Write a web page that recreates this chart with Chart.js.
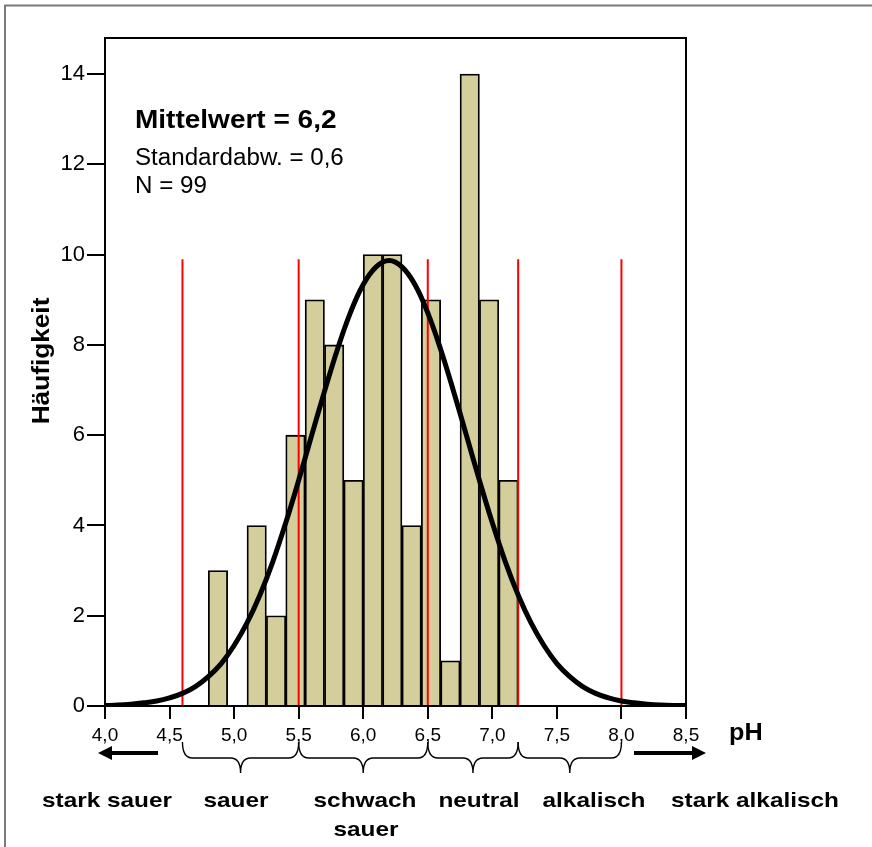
<!DOCTYPE html>
<html>
<head>
<meta charset="UTF-8">
<title>pH Histogramm</title>
<script src="https://cdn.jsdelivr.net/npm/chart.js@4.4.0/dist/chart.umd.min.js"></script>
<style>
  body { margin: 0; padding: 0; background: #fff; }
  #wrap { width: 872px; height: 847px; }
</style>
</head>
<body>
<div id="wrap"><canvas id="c" width="872" height="847"></canvas></div>
<script>
// Histogram bins (pH class centres, width 0.15) and counts
var binCenters = [4.875, 5.025, 5.175, 5.325, 5.475, 5.625, 5.775, 5.925, 6.075, 6.225, 6.375, 6.525, 6.675, 6.825, 6.975, 7.125];
var counts     = [3, 0, 4, 2, 6, 9, 8, 5, 10, 10, 4, 9, 1, 14, 9, 5];

// Normal curve
var curvePH   = [4.0, 4.1, 4.2, 4.3, 4.4, 4.5, 4.6, 4.7, 4.8, 4.9, 5.0, 5.1, 5.2, 5.3, 5.4, 5.5, 5.6, 5.7, 5.8, 5.9,
                 6.0, 6.1, 6.2, 6.3, 6.4, 6.5, 6.6, 6.7, 6.8, 6.9, 7.0, 7.1, 7.2, 7.3, 7.4, 7.5, 7.6, 7.7, 7.8, 7.9,
                 8.0, 8.1, 8.2, 8.3, 8.4, 8.5];
var curveFreq = [0.01, 0.02, 0.04, 0.07, 0.11, 0.18, 0.28, 0.43, 0.65, 0.94, 1.34, 1.84, 2.46, 3.20, 4.06, 5.00, 5.99, 6.97, 7.90, 8.71,
                 9.34, 9.73, 9.87, 9.73, 9.34, 8.71, 7.90, 6.97, 5.99, 5.00, 4.06, 3.20, 2.46, 1.84, 1.34, 0.94, 0.65, 0.43, 0.28, 0.18,
                 0.11, 0.07, 0.04, 0.02, 0.01, 0.01];

// Class boundaries (red lines)
var classBounds = [4.6, 5.5, 6.5, 7.2, 8.0];
var boundTop    = 9.9;

var statLines   = ['Mittelwert = 6,2', 'Standardabw. = 0,6', 'N = 99'];
var regionNames = ['stark sauer', 'sauer', 'schwach', 'sauer', 'neutral', 'alkalisch', 'stark alkalisch'];

var FONT = '"Liberation Sans", Arial, sans-serif';

function txt(ctx, s, x, y, font, sx, align) {
    ctx.save();
    ctx.font = font;
    ctx.textAlign = align || 'left';
    ctx.textBaseline = 'alphabetic';
    ctx.fillStyle = '#000';
    ctx.translate(x, y);
    ctx.scale(sx, 1);
    ctx.fillText(s, 0, 0);
    ctx.restore();
}

function brace(ctx, x1, x2) {
    var mid = (x1 + x2) / 2, yt = 742, yh = 758, yb = 773;
    ctx.beginPath();
    ctx.moveTo(x1, yt);
    ctx.quadraticCurveTo(x1, yh, x1 + 10, yh);
    ctx.lineTo(mid - 10, yh);
    ctx.quadraticCurveTo(mid, yh, mid, yb);
    ctx.quadraticCurveTo(mid, yh, mid + 10, yh);
    ctx.lineTo(x2 - 10, yh);
    ctx.quadraticCurveTo(x2, yh, x2, yt);
    ctx.stroke();
}

function arrow(ctx, xFrom, xTo, y) {
    var dir = xTo > xFrom ? 1 : -1;
    ctx.beginPath();
    ctx.moveTo(xFrom, y);
    ctx.lineTo(xTo - dir * 12, y);
    ctx.lineWidth = 4;
    ctx.stroke();
    ctx.beginPath();
    ctx.moveTo(xTo, y);
    ctx.lineTo(xTo - dir * 14, y - 7);
    ctx.lineTo(xTo - dir * 14, y + 7);
    ctx.closePath();
    ctx.fill();
}

var extras = {
    id: 'extras',
    afterDraw: function (chart) {
        var ctx = chart.ctx, a = chart.chartArea, xs = chart.scales.x;
        ctx.save();

        // outer gray border (top + left)
        ctx.strokeStyle = '#7a7a7a';
        ctx.lineWidth = 2;
        ctx.beginPath();
        ctx.moveTo(5, 847); ctx.lineTo(5, 5.5); ctx.lineTo(872, 5.5);
        ctx.stroke();

        // plot frame
        ctx.strokeStyle = '#000';
        ctx.lineWidth = 2;
        ctx.strokeRect(a.left, a.top, a.right - a.left, a.bottom - a.top);

        // stats text
        txt(ctx, statLines[0], 135, 128, 'bold 25px ' + FONT, 1.12, 'left');
        txt(ctx, statLines[1], 135, 165, '23px ' + FONT, 1.05, 'left');
        txt(ctx, statLines[2], 135, 193, '23px ' + FONT, 1.05, 'left');

        // y title
        ctx.save();
        ctx.translate(48.5, 361);
        ctx.rotate(-Math.PI / 2);
        ctx.scale(1.14, 1);
        ctx.font = 'bold 23px ' + FONT;
        ctx.textAlign = 'center';
        ctx.fillStyle = '#000';
        ctx.fillText('Häufigkeit', 0, 0);
        ctx.restore();

        // x title
        txt(ctx, 'pH', 729, 740, 'bold 24px ' + FONT, 1.05, 'left');

        // braces between the class boundaries
        ctx.strokeStyle = '#000';
        ctx.lineWidth = 1.4;
        for (var i = 0; i < classBounds.length - 1; i++) {
            brace(ctx, xs.getPixelForValue(classBounds[i]), xs.getPixelForValue(classBounds[i + 1]));
        }

        // arrows
        ctx.fillStyle = '#000';
        arrow(ctx, 158, 98, 753);
        arrow(ctx, 634, 706, 753);

        // region names
        var bf = 'bold 21px ' + FONT;
        txt(ctx, regionNames[0], 107, 807, bf, 1.16, 'center');
        txt(ctx, regionNames[1], 236, 807, bf, 1.16, 'center');
        txt(ctx, regionNames[2], 365, 807, bf, 1.16, 'center');
        txt(ctx, regionNames[3], 366, 836, bf, 1.16, 'center');
        txt(ctx, regionNames[4], 479, 807, bf, 1.16, 'center');
        txt(ctx, regionNames[5], 594, 807, bf, 1.16, 'center');
        txt(ctx, regionNames[6], 755, 807, bf, 1.16, 'center');

        ctx.restore();
    }
};

var datasets = [];

datasets.push({
    type: 'line',
    data: curvePH.map(function (x, i) { return { x: x, y: curveFreq[i] }; }),
    borderColor: '#000',
    borderWidth: 5,
    pointRadius: 0,
    tension: 0.4,
    fill: false,
    order: 0
});

classBounds.forEach(function (b) {
    datasets.push({
        type: 'line',
        data: [{ x: b, y: 0 }, { x: b, y: boundTop }],
        borderColor: '#ff0000',
        borderWidth: 2,
        pointRadius: 0,
        fill: false,
        order: 1
    });
});

datasets.push({
    type: 'bar',
    data: binCenters.map(function (x, i) { return { x: x, y: counts[i] }; }),
    backgroundColor: 'rgb(211,206,155)',
    borderColor: '#000',
    borderWidth: 1.8,
    barPercentage: 1,
    categoryPercentage: 1,
    order: 2
});

new Chart(document.getElementById('c'), {
    type: 'bar',
    data: { datasets: datasets },
    options: {
        responsive: false,
        animation: false,
        layout: { padding: { left: 0, top: 38, right: 186, bottom: 0 } },
        plugins: { legend: { display: false }, tooltip: { enabled: false } },
        scales: {
            x: {
                type: 'linear',
                offset: false,
                min: 4, max: 8.5,
                grid: { drawOnChartArea: false, drawTicks: true, tickLength: 13, color: '#000', lineWidth: 2, offset: false },
                border: { display: false },
                ticks: {
                    stepSize: 0.5,
                    padding: 5,
                    color: '#000',
                    font: { family: FONT, size: 19 },
                    maxRotation: 0,
                    autoSkip: false,
                    callback: function (v) { return v.toFixed(1).replace('.', ','); }
                },
                afterFit: function (s) { s.height = 141; }
            },
            y: {
                min: 0, max: 14.8,
                grid: { drawOnChartArea: false, drawTicks: true, tickLength: 18, color: '#000', lineWidth: 2 },
                border: { display: false },
                ticks: {
                    stepSize: 2,
                    includeBounds: false,
                    padding: 2,
                    color: '#000',
                    font: { family: FONT, size: 22 },
                    callback: function (v) { return String(v); }
                },
                afterFit: function (s) { s.width = 105; }
            }
        }
    },
    plugins: [extras]
});
</script>
</body>
</html>
